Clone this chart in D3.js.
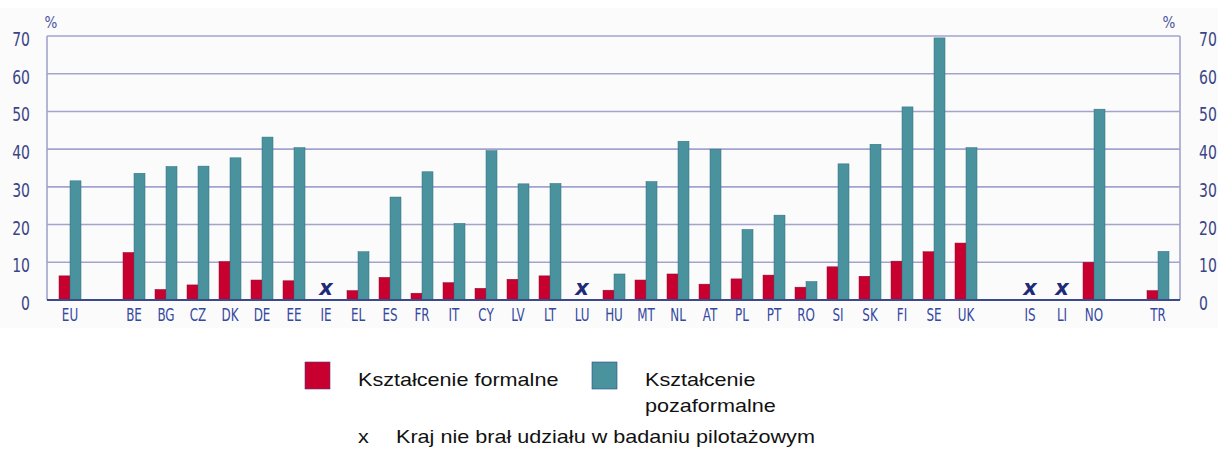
<!DOCTYPE html>
<html>
<head>
<meta charset="utf-8">
<script src="https://cdn.jsdelivr.net/npm/d3@7"></script>
<style>
  body { margin: 0; background: #fff; }
  svg { display: block; }
  .tick-label { font-family: "DejaVu Sans Condensed", "DejaVu Sans", sans-serif; font-stretch: condensed; }
  .legend { font-family: "Liberation Sans", Arial, sans-serif; }
</style>
</head>
<body>
<svg id="chart"></svg>
<script>
// Categories (empty slots "_1", "_2", "_3" are the gaps between groups)
const categories = ["EU", "_1", "BE", "BG", "CZ", "DK", "DE", "EE", "IE", "EL", "ES", "FR", "IT", "CY", "LV", "LT", "LU",
  "HU", "MT", "NL", "AT", "PL", "PT", "RO", "SI", "SK", "FI", "SE", "UK", "_2", "IS", "LI", "NO", "_3", "TR"];

// Countries that did not take part (null values)
const formal = [6.4, null, 12.6, 2.8, 4.0, 10.2, 5.3, 5.1, null, 2.5, 6.0, 1.8, 4.6, 3.1, 5.5, 6.4, null,
  2.6, 5.3, 6.9, 4.2, 5.6, 6.6, 3.4, 8.8, 6.3, 10.3, 12.8, 15.1, null, null, null, 10.0, null, 2.5];
const nonFormal = [31.6, null, 33.6, 35.4, 35.5, 37.7, 43.2, 40.4, null, 12.8, 27.3, 34.0, 20.3, 39.6, 30.8, 30.9, null,
  6.9, 31.4, 42.1, 40.0, 18.7, 22.5, 4.9, 36.1, 41.3, 51.2, 69.5, 40.4, null, null, null, 50.6, null, 12.9];
const missing = ["IE", "LU", "IS", "LI"];

const yTicks = [0, 10, 20, 30, 40, 50, 60, 70];
const seriesNames = ["Kształcenie formalne", "Kształcenie pozaformalne"];
const noteText = "Kraj nie brał udziału w badaniu pilotażowym";

const W = 1218, H = 457;
const frame = { left: 47, right: 1180, top: 36, bottom: 300 };
const colors = { formal: "#c8002f", nonFormal: "#4a929e" };
const navy = "#3a4585";

const svg = d3.select("#chart").attr("width", W).attr("height", H);

// light panel behind chart
svg.append("rect")
  .attr("x", 0).attr("y", 8).attr("width", W).attr("height", 320)
  .attr("fill", "#fbfbfb");

const x = d3.scaleBand()
  .domain(categories)
  .range([54, 1174])
  .padding(0);

const y = d3.scaleLinear()
  .domain([0, 70])
  .range([frame.bottom, frame.top]);

const barW = 11;

// grid lines
svg.append("g")
  .selectAll("line")
  .data(yTicks.filter(d => d > 0))
  .enter().append("line")
  .attr("x1", frame.left).attr("x2", frame.right)
  .attr("y1", d => y(d)).attr("y2", d => y(d))
  .attr("stroke", "#a3a3cf")
  .attr("stroke-width", 1.6);

// side lines of frame
svg.append("g")
  .selectAll("line")
  .data([frame.left, frame.right])
  .enter().append("line")
  .attr("x1", d => d).attr("x2", d => d)
  .attr("y1", y(70)).attr("y2", y(0))
  .attr("stroke", "#a3a3cf")
  .attr("stroke-width", 1.6);

const rows = categories.map((c, i) => ({ c, f: formal[i], n: nonFormal[i] }))
  .filter(d => d.f !== null);

// formal bars
svg.append("g")
  .selectAll("rect")
  .data(rows)
  .enter().append("rect")
  .attr("x", d => x(d.c) + x.bandwidth() / 2 - barW)
  .attr("y", d => y(d.f))
  .attr("width", barW)
  .attr("height", d => y(0) - y(d.f))
  .attr("fill", colors.formal)
  .attr("stroke", "#8a1030")
  .attr("stroke-width", 0.5);

// non-formal bars
svg.append("g")
  .selectAll("rect")
  .data(rows)
  .enter().append("rect")
  .attr("x", d => x(d.c) + x.bandwidth() / 2)
  .attr("y", d => y(d.n))
  .attr("width", barW)
  .attr("height", d => y(0) - y(d.n))
  .attr("fill", colors.nonFormal)
  .attr("stroke", "#2f6f7c")
  .attr("stroke-width", 0.5);

// zero axis line
svg.append("line")
  .attr("x1", frame.left).attr("x2", frame.right)
  .attr("y1", y(0)).attr("y2", y(0))
  .attr("stroke", "#3a4a8c")
  .attr("stroke-width", 1.8);

// "x" markers for missing countries
svg.append("g")
  .selectAll("text")
  .data(missing)
  .enter().append("text")
  .attr("x", d => x(d) + x.bandwidth() / 2)
  .attr("y", 295)
  .attr("text-anchor", "middle")
  .style("font-family", "'DejaVu Sans', sans-serif")
  .style("font-size", "21px")
  .style("font-weight", "bold")
  .style("font-style", "italic")
  .style("fill", "#1f2a78")
  .text("x");

// x axis labels
const xAxis = d3.axisBottom(x)
  .tickValues(categories.filter(c => !c.startsWith("_")))
  .tickSize(0)
  .tickPadding(9);

svg.append("g")
  .attr("transform", `translate(0,${y(0)})`)
  .call(xAxis)
  .call(g => g.select(".domain").remove())
  .selectAll("text")
  .attr("class", "tick-label")
  .attr("transform", "scale(0.78,1)")
  .style("font-size", "17px")
  .style("fill", "#3448a0");

// left and right y axes
const yAxisL = d3.axisLeft(y).tickValues(yTicks).tickSize(0).tickPadding(0);
const yAxisR = d3.axisRight(y).tickValues(yTicks).tickSize(0).tickPadding(0);

svg.append("g")
  .attr("transform", "translate(30,0)")
  .call(yAxisL)
  .call(g => g.select(".domain").remove())
  .selectAll("text")
  .attr("class", "tick-label")
  .attr("dy", "0.5em")
  .attr("transform", "scale(0.82,1)")
  .style("font-size", "19px")
  .style("fill", navy);

svg.append("g")
  .attr("transform", "translate(1199,0)")
  .call(yAxisR)
  .call(g => g.select(".domain").remove())
  .selectAll("text")
  .attr("class", "tick-label")
  .attr("dy", "0.5em")
  .attr("transform", "scale(0.82,1)")
  .style("font-size", "19px")
  .style("fill", navy);

// % labels
svg.selectAll(".pct")
  .data([51, 1169])
  .enter().append("text")
  .attr("class", "tick-label")
  .attr("x", d => d)
  .attr("y", 28)
  .attr("text-anchor", "middle")
  .style("font-size", "15px")
  .style("fill", "#4a55a0")
  .text("%");

// legend
const legend = svg.append("g").attr("class", "legend");

function legendText(tx, ty, str) {
  legend.append("text")
    .attr("transform", `translate(${tx},${ty}) scale(1.2,1)`)
    .style("font-size", "18px").style("fill", "#111")
    .text(str);
}

legend.append("rect")
  .attr("x", 305).attr("y", 362).attr("width", 25).attr("height", 27)
  .attr("fill", colors.formal).attr("stroke", "#5a3a7a").attr("stroke-width", 0.6);
legendText(358, 386, seriesNames[0]);

legend.append("rect")
  .attr("x", 592).attr("y", 362).attr("width", 25).attr("height", 27)
  .attr("fill", colors.nonFormal).attr("stroke", "#2a4a8a").attr("stroke-width", 0.6);
legendText(645, 386, "Kształcenie");
legendText(645, 412, "pozaformalne");

legendText(358, 443, "x");
legendText(396, 443, noteText);
</script>
</body>
</html>
